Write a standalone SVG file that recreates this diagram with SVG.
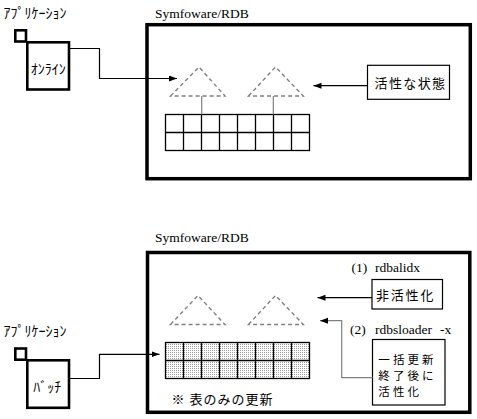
<svg xmlns="http://www.w3.org/2000/svg" width="477" height="419" viewBox="0 0 477 419">
<style>
.bg{fill:#fff}
.db{fill:none;stroke:#000;stroke-width:3.5}
.app{fill:#fff;stroke:#000;stroke-width:2.6}
.box{fill:#fff;stroke:#000;stroke-width:1.2}
.tri{fill:none;stroke:#808080;stroke-width:1.4;stroke-dasharray:4 3}
.grid{fill:none;stroke:#000;stroke-width:1.3}
.gl{fill:none;stroke:#808080;stroke-width:1.2}
.con{fill:none;stroke:#000;stroke-width:1.2}
.cong{fill:none;stroke:#808080;stroke-width:1.2}
.lat{font-family:"Liberation Serif",serif;font-size:13.5px;fill:#000}
.jp{font-family:"Noto Sans CJK JP",sans-serif;font-size:14px;fill:#000}
.jb{font-family:"Noto Sans CJK JP",sans-serif;font-size:13px;letter-spacing:1.4px;fill:#000}
.j3{font-family:"Noto Sans CJK JP",sans-serif;font-size:11.5px;letter-spacing:3.1px;fill:#000}
.dotted{fill:url(#dots);stroke:none}
</style>
<defs>
<marker id="ah" markerUnits="userSpaceOnUse" markerWidth="9" markerHeight="7" refX="8" refY="3" orient="auto">
<path d="M0,0 L8,3 L0,6 z" fill="#000"/>
</marker>
<pattern id="dots" width="2" height="2" patternUnits="userSpaceOnUse">
<rect width="2" height="2" fill="#fff"/>
<rect x="0" y="0" width="1" height="1" fill="#999"/>
</pattern>
</defs>
<rect class="bg" width="477" height="419"/>

<!-- Top section -->
<g id="app-online">
<text class="jp" x="3.5" y="18">ｱﾌﾟﾘｹｰｼｮﾝ</text>
<rect class="app" x="15.3" y="30.3" width="10.7" height="11.2"/>
<rect class="app" x="27.3" y="42.3" width="41.7" height="47.2"/>
<text class="jp" x="48.3" y="74" text-anchor="middle">ｵﾝﾗｲﾝ</text>
</g>

<g id="db-top">
<text class="lat" x="155" y="18">Symfoware/RDB</text>
<rect class="db" x="147" y="24.7" width="323.3" height="154"/>
</g>

<g id="index-top-1">
<path class="tri" d="M170.5,96 L199,67 L225,96 Z"/>
</g>
<g id="index-top-2">
<path class="tri" d="M248.5,96 L275.5,67 L303.3,96 Z"/>
</g>

<g id="table-top">
<rect class="grid" x="165.5" y="114.5" width="144" height="36"/>
<path class="grid" d="M165.5,132.5 H309.5 M183.5,114.5 V150.5 M201.5,114.5 V150.5 M219.5,114.5 V150.5 M237.5,114.5 V150.5 M255.5,114.5 V150.5 M273.5,114.5 V150.5 M291.5,114.5 V150.5"/>
</g>

<g id="state-active">
<rect class="box" x="367.5" y="65.3" width="82" height="34"/>
<text class="jb" x="374.5" y="88">活性な状態</text>
</g>

<!-- Bottom section -->
<g id="app-batch">
<text class="jp" x="3.5" y="336">ｱﾌﾟﾘｹｰｼｮﾝ</text>
<rect class="app" x="15.3" y="348.5" width="10.7" height="11.2"/>
<rect class="app" x="27.3" y="360.3" width="41.7" height="47.5"/>
<text class="jp" x="33.3" y="391.5">ﾊﾞｯﾁ</text>
</g>

<g id="db-bottom">
<text class="lat" x="155" y="241.5">Symfoware/RDB</text>
<rect class="db" x="147.5" y="252.5" width="322.3" height="159.8"/>
<text class="jb" x="171.5" y="404" style="letter-spacing:1px">※ 表のみの更新</text>
</g>

<g id="index-bottom-1">
<path class="tri" d="M170.5,324.5 L198,295.5 L225,324.5 Z"/>
</g>
<g id="index-bottom-2">
<path class="tri" d="M248.5,324.5 L275.5,295.5 L303.3,324.5 Z"/>
</g>

<g id="table-bottom">
<rect class="dotted" x="165.5" y="342.5" width="144" height="36"/>
<rect class="grid" x="165.5" y="342.5" width="144" height="36"/>
<path class="grid" d="M165.5,360.5 H309.5 M183.5,342.5 V378.5 M201.5,342.5 V378.5 M219.5,342.5 V378.5 M237.5,342.5 V378.5 M255.5,342.5 V378.5 M273.5,342.5 V378.5 M291.5,342.5 V378.5"/>
</g>

<g id="step1">
<text class="lat" x="351.5" y="271.5">(1)<tspan x="375">rdbalidx</tspan></text>
<rect class="box" x="372" y="279.5" width="70.5" height="29.5"/>
<text class="jb" x="376" y="300" style="letter-spacing:1.8px">非活性化</text>
</g>

<g id="step2">
<text class="lat" x="350" y="333.5">(2)<tspan x="375">rdbsloader</tspan><tspan x="440">-x</tspan></text>
<rect class="box" x="372.5" y="339.5" width="72.5" height="65.5"/>
<text class="j3"><tspan x="378.3" y="364">一括更新</tspan><tspan x="378.3" y="380">終了後に</tspan><tspan x="378.3" y="396">活性化</tspan></text>
</g>

<g id="connectors">
<path class="gl" d="M201.7,96 V114.5 M273.3,96 V114.5"/>
<path class="con" d="M69,48.5 H99.5 V78.5 H177" marker-end="url(#ah)"/>
<path class="con" d="M367.5,85.7 H313.5" marker-end="url(#ah)"/>
<path class="con" d="M69,378.5 H99.5 V354.3 H159.5" marker-end="url(#ah)"/>
<path class="con" d="M372,297.7 H317.5" marker-end="url(#ah)"/>
<path class="cong" d="M372.5,377.7 H341.7 V320.7 H320"/>
<path d="M320,317.7 L328,320.7 L320,323.7 z" fill="#000" transform="rotate(180 324 320.7)"/>
</g>
</svg>
